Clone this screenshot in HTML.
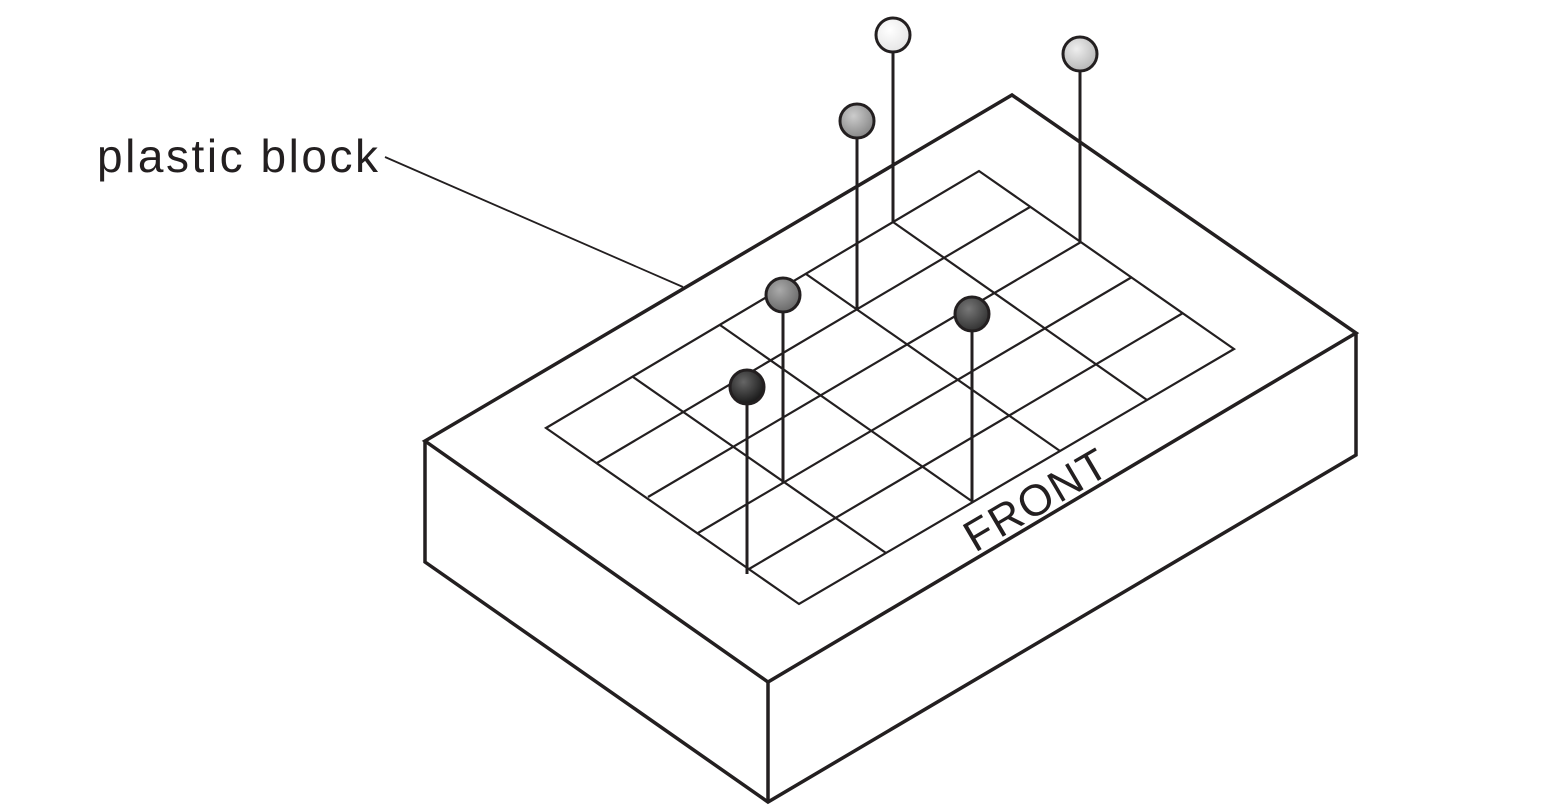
<!DOCTYPE html>
<html><head><style>body{margin:0;background:#fff}svg{display:block}</style></head><body>
<svg width="1541" height="810" viewBox="0 0 1541 810" xmlns="http://www.w3.org/2000/svg">
<defs>
<radialGradient id="g1" cx="40%" cy="35%" r="65%"><stop offset="0" stop-color="#fff"/><stop offset="1" stop-color="#e6e6e6"/></radialGradient>
<radialGradient id="g2" cx="40%" cy="35%" r="65%"><stop offset="0" stop-color="#eee"/><stop offset="1" stop-color="#b8b8b8"/></radialGradient>
<radialGradient id="g3" cx="40%" cy="35%" r="65%"><stop offset="0" stop-color="#ccc"/><stop offset="1" stop-color="#888"/></radialGradient>
<radialGradient id="g4" cx="40%" cy="35%" r="65%"><stop offset="0" stop-color="#aaa"/><stop offset="1" stop-color="#6a6a6a"/></radialGradient>
<radialGradient id="g5" cx="40%" cy="35%" r="65%"><stop offset="0" stop-color="#777"/><stop offset="1" stop-color="#333"/></radialGradient>
<radialGradient id="g6" cx="40%" cy="35%" r="65%"><stop offset="0" stop-color="#666"/><stop offset="1" stop-color="#1a1a1a"/></radialGradient>
</defs>
<g fill="none" stroke="#231f20" stroke-width="3.5" stroke-linejoin="miter">
<polygon points="425,441 1012,95 1356,333 768,682"/>
<polyline points="425,441 425,562 768,802 1356,455 1356,333"/>
<line x1="768" y1="682" x2="768" y2="802"/>
</g>
<g fill="none" stroke="#231f20" stroke-width="2.2">
<polygon points="546,428 979,171 1234,349 799,604"/>
<line x1="597" y1="463" x2="1030" y2="207"/>
<line x1="648" y1="497" x2="1081" y2="242"/>
<line x1="698" y1="533" x2="1132" y2="277"/>
<line x1="749" y1="569" x2="1183" y2="313"/>
<line x1="633" y1="377" x2="886" y2="553"/>
<line x1="720" y1="325" x2="973" y2="502"/>
<line x1="806" y1="274" x2="1060" y2="451"/>
<line x1="893" y1="222" x2="1147" y2="400"/>
<line x1="385" y1="157" x2="683" y2="287" stroke-width="1.8"/>
</g>
<g stroke="#231f20" stroke-width="3">
<line x1="893" y1="52" x2="893" y2="222"/>
<line x1="1080" y1="71" x2="1080" y2="242"/>
<line x1="857" y1="138" x2="857" y2="308"/>
<line x1="783" y1="312" x2="783" y2="483"/>
<line x1="972" y1="331" x2="972" y2="501"/>
<line x1="747" y1="404" x2="747" y2="574"/>
<circle cx="893" cy="35" r="17" fill="url(#g1)"/>
<circle cx="1080" cy="54" r="17" fill="url(#g2)"/>
<circle cx="857" cy="121" r="17" fill="url(#g3)"/>
<circle cx="783" cy="295" r="17" fill="url(#g4)"/>
<circle cx="972" cy="314" r="17" fill="url(#g5)"/>
<circle cx="747" cy="387" r="17" fill="url(#g6)"/>
</g>
<text x="97" y="172" font-family="Liberation Sans, sans-serif" font-size="46" fill="#231f20" textLength="281" lengthAdjust="spacing">plastic block</text>
<text x="0" y="0" transform="translate(975,553) rotate(-30.4)" font-family="Liberation Sans, sans-serif" font-size="44" fill="#231f20" textLength="158" lengthAdjust="spacing">FRONT</text>
</svg>
</body></html>
